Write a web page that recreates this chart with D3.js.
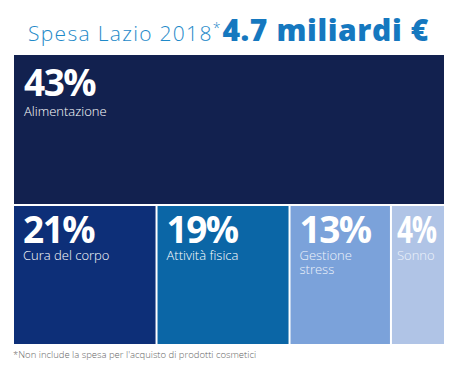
<!DOCTYPE html>
<html><head><meta charset="utf-8">
<script src="https://cdn.jsdelivr.net/npm/d3@7"></script>
<style>body{margin:0;background:#fff}svg{display:block}</style>
</head><body>
<script>
const categories = ["Alimentazione", "Cura del corpo", "Attività fisica", "Gestione\nstress", "Sonno"];
const values = [43, 21, 19, 13, 4];
const colors = ["#12214f", "#0d2f78", "#0b66a6", "#7ba2da", "#b0c4e6"];
const titleText = "Spesa Lazio 2018";
const totalText = "4.7 miliardi €";
const footnote = "*Non include la spesa per l'acquisto di prodotti cosmetici";

(function () {
const W = 450, H = 366;
const mLeft = 14, mRight = 444, mTop = 55, mBottom = 344, gap = 2;
const topRowH = 149;
const minCellW = 31;

const svg = d3.select("body").append("svg").attr("width", W).attr("height", H);

// Title
const t = svg.append("text").attr("x", 28).attr("y", 41).attr("font-family", "Open Sans").attr("fill", "#1f8ac9");
t.append("tspan").attr("font-size", 21).attr("font-weight", 300).attr("letter-spacing", 1.3).text(titleText);
t.append("tspan").attr("font-size", 14).attr("font-weight", 300).attr("dy", -8).text("*");
t.append("tspan").attr("font-size", 30).attr("font-weight", 800).attr("dy", 8).attr("dx", 2).attr("fill", "#1578bf").attr("letter-spacing", 0.6).text(totalText);

// layout: top cell full width; bottom row cells min width + proportional remainder
const rest = values.slice(1);
const restSum = d3.sum(rest);
const avail = (mRight - mLeft) - gap * (rest.length - 1) - minCellW * rest.length;
const wScale = d3.scaleLinear().domain([0, restSum]).range([0, avail]);
const cells = [{i: 0, x0: mLeft, x1: mRight, y0: mTop, y1: mTop + topRowH, pctY: 41, lblY: 61}];
let x = mLeft;
rest.forEach((v, k) => {
  const w = minCellW + wScale(v);
  cells.push({i: k + 1, x0: x, x1: x + w, y0: mTop + topRowH + gap, y1: mBottom, pctY: 37, lblY: 54});
  x += w + gap;
});
const pad = d => (d.x1 - d.x0) < 70 ? 5 : 9;

const g = svg.selectAll("g.cell").data(cells).join("g").attr("class", "cell");
g.append("rect")
  .attr("x", d => d.x0).attr("y", d => d.y0)
  .attr("width", d => d.x1 - d.x0).attr("height", d => d.y1 - d.y0)
  .attr("fill", d => colors[d.i]);
g.append("text")
  .attr("x", d => d.x0 + pad(d) + (d.i === 0 ? 1 : 0)).attr("y", d => d.y0 + d.pctY)
  .attr("font-family", "Open Sans").attr("font-weight", 700).attr("font-size", 37)
  .attr("fill", "#fff").attr("letter-spacing", -1.5)
  .text(d => values[d.i] + "%")
  .each(function(d) {
    const availW = (d.x1 - d.x0) - pad(d) - 8;
    const len = this.getComputedTextLength();
    if (len > availW) d3.select(this).attr("textLength", availW).attr("lengthAdjust", "spacingAndGlyphs");
  });
g.each(function(d) {
  const lines = categories[d.i].split("\n");
  const tx = d3.select(this).append("text")
    .attr("font-family", "Open Sans").attr("font-size", 13).attr("font-weight", 300)
    .attr("fill", d.i >= 3 ? "#eef3fb" : "#fff");
  lines.forEach((ln, j) => tx.append("tspan").attr("x", d.x0 + pad(d) + (d.i === 0 ? 1 : 0)).attr("y", d.y0 + d.lblY + j * 14).text(ln));
});

svg.append("text").attr("x", 13).attr("y", 358).attr("font-family", "Open Sans").attr("font-size", 9.5).attr("font-weight", 300)
  .attr("fill", "#666").text(footnote);
})();
</script>
</body></html>
